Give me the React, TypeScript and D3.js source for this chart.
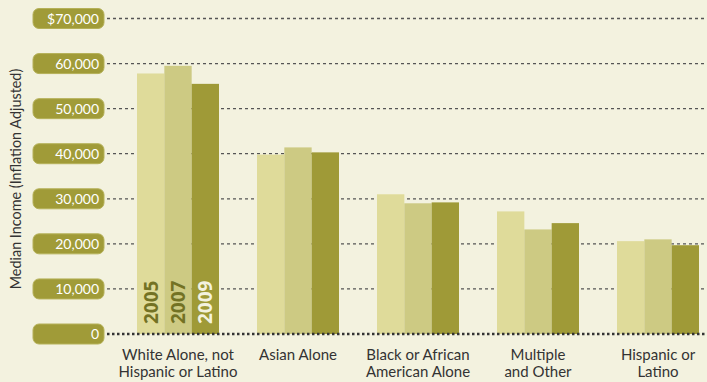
import React from "react";
import * as d3 from "d3";

const categories = [
  ["White Alone, not", "Hispanic or Latino"],
  ["Asian Alone"],
  ["Black or African", "American Alone"],
  ["Multiple", "and Other"],
  ["Hispanic or", "Latino"],
];
const years = ["2005", "2007", "2009"];
const values2005 = [57800, 39800, 31000, 27200, 20600];
const values2007 = [59500, 41400, 29000, 23200, 21000];
const values2009 = [55500, 40300, 29200, 24600, 19700];
const tickValues = [0, 10000, 20000, 30000, 40000, 50000, 60000, 70000];
const tickLabels = ["0", "10,000", "20,000", "30,000", "40,000", "50,000", "60,000", "$70,000"];

const W = 707;
const H = 382;
const colors = ["#dfdb9a", "#cdca83", "#9f9a37"];
const yearTextColors = ["#737224", "#737224", "#f3f2df"];
const font = "Lato, 'Open Sans', sans-serif";

export default function App() {
  const series = [values2005, values2007, values2009];
  const y = d3.scaleLinear().domain([0, 70000]).range([334, 18.5]);
  const x0 = d3
    .scaleBand<number>()
    .domain(categories.map((_, i) => i))
    .range([118, 718])
    .paddingInner(38 / 120)
    .paddingOuter(19 / 120);
  const x1 = d3.scaleBand<number>().domain([0, 1, 2]).range([0, x0.bandwidth()]);

  return (
    <svg width={W} height={H} style={{ position: "absolute", left: 0, top: 0, background: "#f3f2df" }}>
      <rect x={0} y={0} width={W} height={H} fill="#f3f2df" />
      {tickValues.map((t, i) =>
        t === 0 ? null : (
          <line
            key={"g" + i}
            x1={107}
            x2={W}
            y1={y(t)}
            y2={y(t)}
            stroke="#555"
            strokeWidth={1.3}
            strokeDasharray="3,3"
          />
        )
      )}
      {categories.map((_, ci) =>
        series.map((s, si) => (
          <rect
            key={ci + "-" + si}
            x={(x0(ci) as number) + (x1(si) as number)}
            y={y(s[ci])}
            width={x1.bandwidth()}
            height={y(0) - y(s[ci])}
            fill={colors[si]}
          />
        ))
      )}
      <line x1={107} x2={W} y1={y(0)} y2={y(0)} stroke="#333" strokeWidth={2.5} strokeDasharray="2.5,2.5" />
      {tickValues.map((t, i) => (
        <g key={"t" + i}>
          <rect x={33} y={y(t) - 10} width={71} height={20} rx={6} ry={6} fill="#a09b38" stroke="#b5b158" strokeWidth={1} />
          <text x={99} y={y(t) + 5} textAnchor="end" fill="#fff" fontSize={14} fontFamily={font}>
            {tickLabels[i]}
          </text>
        </g>
      ))}
      {years.map((yr, si) => {
        const cx = (x0(0) as number) + (x1(si) as number) + x1.bandwidth() / 2;
        return (
          <text
            key={yr}
            transform={`translate(${cx + 7},${324}) rotate(-90)`}
            fill={yearTextColors[si]}
            fontSize={19}
            fontWeight={700}
            fontFamily="'Open Sans', sans-serif"
          >
            {yr}
          </text>
        );
      })}
      {categories.map((lines, ci) => {
        const cx = (x0(ci) as number) + x0.bandwidth() / 2;
        return (
          <text key={"c" + ci} textAnchor="middle" fill="#333" fontSize={15} fontFamily={font}>
            {lines.map((l, li) => (
              <tspan key={li} x={cx} y={360 + li * 17}>
                {l}
              </tspan>
            ))}
          </text>
        );
      })}
      <text
        transform={`translate(${21},${179}) rotate(-90)`}
        textAnchor="middle"
        fill="#333"
        fontSize={14.4}
        fontFamily={font}
      >
        Median Income (Inflation Adjusted)
      </text>
    </svg>
  );
}
